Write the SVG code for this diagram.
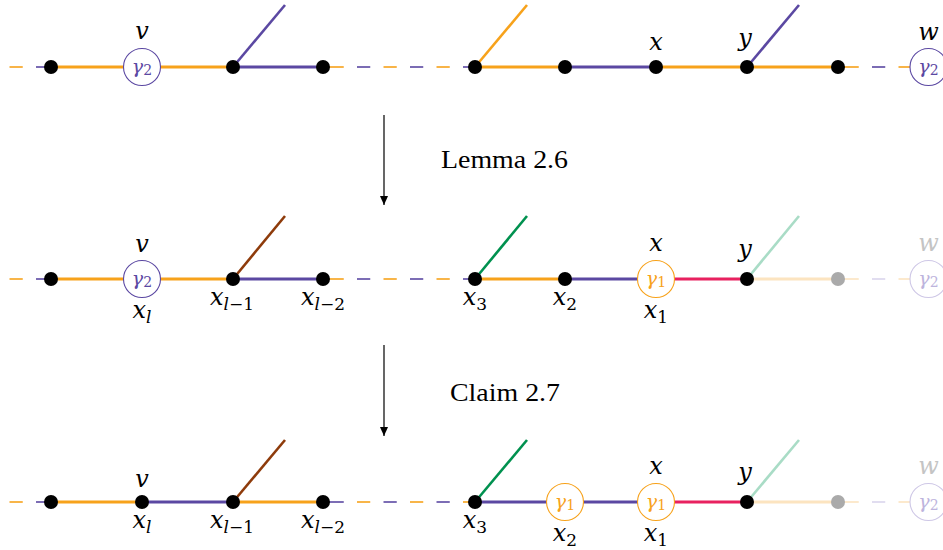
<svg xmlns="http://www.w3.org/2000/svg" width="943" height="550" viewBox="0 0 943 550">
<style>
.e{stroke-width:3;fill:none}
.dg{stroke-width:2.6;fill:none}
.ds{stroke-width:1.6;fill:none}
.o{stroke:#F7A21B}.p{stroke:#5B48A2}.br{stroke:#8E3B0B}.gr{stroke:#00914F}.lg{stroke:#A9DCC6}.cr{stroke:#E8215F}.fo{stroke:#FCE4C0}.fp{stroke:#DAD5EC}
.dot{fill:#000}.gdot{fill:#AAAAAA}
.cp{fill:#fff;stroke:#5B48A2;stroke-width:1.1}
.co{fill:#fff;stroke:#F7A21B;stroke-width:1.1}
.cf{fill:#fff;stroke:#CEC7E6;stroke-width:1.1}
text{font-family:"DejaVu Serif","Liberation Serif",serif}
.m{font-size:24px;font-style:italic;text-anchor:middle;fill:#000}
.s{font-size:17px}
.n{font-style:normal}
.g{font-size:19px;font-style:italic;text-anchor:middle}
.gs{font-size:14px;font-style:normal}
.tp{fill:#5B48A2}.to{fill:#F7A21B}.tf{fill:#BDB4DD}.wf{fill:#C4C4C4}
.lbl{font-family:"Liberation Serif",serif;font-size:25px;fill:#000}
.arr{stroke:#000;stroke-width:1.2}
</style>
<defs>
<marker id="ah" markerWidth="10" markerHeight="10" refX="9" refY="5" orient="auto" markerUnits="userSpaceOnUse"><path d="M0,1 L9,5 L0,9 z" fill="#000"/></marker>
</defs>
<g id="connectors">
<line class="ds o" x1="9.5" y1="67" x2="22.75" y2="67"/>
<line class="ds p" x1="36" y1="67" x2="51" y2="67"/>
<line class="e o" x1="51" y1="67" x2="233" y2="67"/>
<line class="e p" x1="233" y1="67" x2="323" y2="67"/>
<line class="dg p" x1="233" y1="67" x2="285" y2="5"/>
<line class="ds o" x1="323" y1="67" x2="343.75" y2="67"/>
<line class="ds p" x1="357" y1="67" x2="370.25" y2="67"/>
<line class="ds o" x1="383.5" y1="67" x2="396.75" y2="67"/>
<line class="ds p" x1="410" y1="67" x2="423.25" y2="67"/>
<line class="ds o" x1="436.5" y1="67" x2="449.75" y2="67"/>
<line class="ds p" x1="463" y1="67" x2="475" y2="67"/>
<line class="e o" x1="475" y1="67" x2="565" y2="67"/>
<line class="e p" x1="565" y1="67" x2="656" y2="67"/>
<line class="e o" x1="656" y1="67" x2="838" y2="67"/>
<line class="dg o" x1="475" y1="67" x2="527" y2="5"/>
<line class="dg p" x1="747" y1="67" x2="799" y2="5"/>
<line class="ds o" x1="838" y1="67" x2="858.75" y2="67"/>
<line class="ds p" x1="872" y1="67" x2="885.25" y2="67"/>
<line class="ds o" x1="898.5" y1="67" x2="911" y2="67"/>
<line class="ds o" x1="9.5" y1="279" x2="22.75" y2="279"/>
<line class="ds p" x1="36" y1="279" x2="51" y2="279"/>
<line class="e o" x1="51" y1="279" x2="233" y2="279"/>
<line class="e p" x1="233" y1="279" x2="323" y2="279"/>
<line class="dg br" x1="233" y1="279" x2="285" y2="216"/>
<line class="ds o" x1="323" y1="279" x2="343.75" y2="279"/>
<line class="ds p" x1="357" y1="279" x2="370.25" y2="279"/>
<line class="ds o" x1="383.5" y1="279" x2="396.75" y2="279"/>
<line class="ds p" x1="410" y1="279" x2="423.25" y2="279"/>
<line class="ds o" x1="436.5" y1="279" x2="449.75" y2="279"/>
<line class="ds p" x1="463" y1="279" x2="475" y2="279"/>
<line class="e o" x1="475" y1="279" x2="565" y2="279"/>
<line class="e p" x1="565" y1="279" x2="656" y2="279"/>
<line class="e cr" x1="656" y1="279" x2="747" y2="279"/>
<line class="e fo" x1="747" y1="279" x2="838" y2="279"/>
<line class="dg gr" x1="475" y1="279" x2="527" y2="216"/>
<line class="dg lg" x1="747" y1="279" x2="799" y2="216"/>
<line class="ds fo" x1="838" y1="279" x2="858.75" y2="279"/>
<line class="ds fp" x1="872" y1="279" x2="885.25" y2="279"/>
<line class="ds fo" x1="898.5" y1="279" x2="911" y2="279"/>
<line class="ds o" x1="9.5" y1="502" x2="22.75" y2="502"/>
<line class="ds p" x1="36" y1="502" x2="51" y2="502"/>
<line class="e o" x1="51" y1="502" x2="142" y2="502"/>
<line class="e p" x1="142" y1="502" x2="233" y2="502"/>
<line class="e o" x1="233" y1="502" x2="323" y2="502"/>
<line class="dg br" x1="233" y1="502" x2="285" y2="440"/>
<line class="ds p" x1="323" y1="502" x2="343.75" y2="502"/>
<line class="ds o" x1="357" y1="502" x2="370.25" y2="502"/>
<line class="ds p" x1="383.5" y1="502" x2="396.75" y2="502"/>
<line class="ds o" x1="410" y1="502" x2="423.25" y2="502"/>
<line class="ds p" x1="436.5" y1="502" x2="449.75" y2="502"/>
<line class="ds o" x1="463" y1="502" x2="475" y2="502"/>
<line class="e p" x1="475" y1="502" x2="656" y2="502"/>
<line class="e cr" x1="656" y1="502" x2="747" y2="502"/>
<line class="e fo" x1="747" y1="502" x2="838" y2="502"/>
<line class="dg gr" x1="475" y1="502" x2="527" y2="440"/>
<line class="dg lg" x1="747" y1="502" x2="799" y2="440"/>
<line class="ds fo" x1="838" y1="502" x2="858.75" y2="502"/>
<line class="ds fp" x1="872" y1="502" x2="885.25" y2="502"/>
<line class="ds fo" x1="898.5" y1="502" x2="911" y2="502"/>
<line class="arr" x1="384" y1="115" x2="384" y2="205" marker-end="url(#ah)"/>
<line class="arr" x1="384" y1="345" x2="384" y2="436" marker-end="url(#ah)"/>
</g>
<g id="step-labels">
<text class="lbl" x="441" y="168" textLength="127" lengthAdjust="spacingAndGlyphs">Lemma 2.6</text>
<text class="lbl" x="450" y="401" textLength="110" lengthAdjust="spacingAndGlyphs">Claim 2.7</text>
</g>
<g id="r1-a"><circle class="dot" cx="51" cy="67" r="7"/></g>
<g id="r1-v"><circle class="cp" cx="142" cy="67" r="18.5"/><text class="g tp" x="142" y="73">γ<tspan class="gs" dy="2">2</tspan></text><text class="m" x="142" y="39">v</text></g>
<g id="r1-b"><circle class="dot" cx="233" cy="67" r="7"/></g>
<g id="r1-c"><circle class="dot" cx="323" cy="67" r="7"/></g>
<g id="r1-d"><circle class="dot" cx="475" cy="67" r="7"/></g>
<g id="r1-e"><circle class="dot" cx="565" cy="67" r="7"/></g>
<g id="r1-x"><circle class="dot" cx="656" cy="67" r="7"/><text class="m" x="656" y="50">x</text></g>
<g id="r1-y"><circle class="dot" cx="747" cy="67" r="7"/><text class="m" x="745" y="46">y</text></g>
<g id="r1-f"><circle class="dot" cx="838" cy="67" r="7"/></g>
<g id="r1-w"><circle class="cp" cx="928.5" cy="67" r="18.5"/><text class="g tp" x="928.5" y="73">γ<tspan class="gs" dy="2">2</tspan></text><text class="m" x="928.5" y="40">w</text></g>
<g id="r2-a"><circle class="dot" cx="51" cy="279" r="7"/></g>
<g id="r2-xl"><circle class="cp" cx="142" cy="279" r="18.5"/><text class="g tp" x="142" y="285">γ<tspan class="gs" dy="2">2</tspan></text><text class="m" x="142" y="252">v</text><text class="m" x="142" y="318">x<tspan class="s" dy="5">l</tspan></text></g>
<g id="r2-xl1"><circle class="dot" cx="233" cy="279" r="7"/><text class="m" x="232" y="305">x<tspan class="s" dy="5">l</tspan><tspan class="s n">−1</tspan></text></g>
<g id="r2-xl2"><circle class="dot" cx="323" cy="279" r="7"/><text class="m" x="323" y="305">x<tspan class="s" dy="5">l</tspan><tspan class="s n">−2</tspan></text></g>
<g id="r2-x3"><circle class="dot" cx="475" cy="279" r="7"/><text class="m" x="475" y="305">x<tspan class="s n" dy="5">3</tspan></text></g>
<g id="r2-x2"><circle class="dot" cx="565" cy="279" r="7"/><text class="m" x="565" y="305">x<tspan class="s n" dy="5">2</tspan></text></g>
<g id="r2-x1"><circle class="co" cx="656" cy="279" r="18.5"/><text class="g to" x="656" y="285">γ<tspan class="gs" dy="2">1</tspan></text><text class="m" x="656" y="251">x</text><text class="m" x="656" y="318">x<tspan class="s n" dy="5">1</tspan></text></g>
<g id="r2-y"><circle class="dot" cx="747" cy="279" r="7"/><text class="m" x="745" y="257">y</text></g>
<g id="r2-f"><circle class="gdot" cx="838" cy="279" r="7"/></g>
<g id="r2-w"><circle class="cf" cx="928.5" cy="279" r="18.5"/><text class="g tf" x="928.5" y="285">γ<tspan class="gs" dy="2">2</tspan></text><text class="m wf" x="928.5" y="251">w</text></g>
<g id="r3-a"><circle class="dot" cx="51" cy="502" r="7"/></g>
<g id="r3-xl"><circle class="dot" cx="142" cy="502" r="7"/><text class="m" x="142" y="487">v</text><text class="m" x="142" y="528">x<tspan class="s" dy="5">l</tspan></text></g>
<g id="r3-xl1"><circle class="dot" cx="233" cy="502" r="7"/><text class="m" x="232" y="528">x<tspan class="s" dy="5">l</tspan><tspan class="s n">−1</tspan></text></g>
<g id="r3-xl2"><circle class="dot" cx="323" cy="502" r="7"/><text class="m" x="323" y="528">x<tspan class="s" dy="5">l</tspan><tspan class="s n">−2</tspan></text></g>
<g id="r3-x3"><circle class="dot" cx="475" cy="502" r="7"/><text class="m" x="475" y="528">x<tspan class="s n" dy="5">3</tspan></text></g>
<g id="r3-x2"><circle class="co" cx="565" cy="502" r="18.5"/><text class="g to" x="565" y="508">γ<tspan class="gs" dy="2">1</tspan></text><text class="m" x="565" y="541">x<tspan class="s n" dy="5">2</tspan></text></g>
<g id="r3-x1"><circle class="co" cx="656" cy="502" r="18.5"/><text class="g to" x="656" y="508">γ<tspan class="gs" dy="2">1</tspan></text><text class="m" x="656" y="474">x</text><text class="m" x="656" y="541">x<tspan class="s n" dy="5">1</tspan></text></g>
<g id="r3-y"><circle class="dot" cx="747" cy="502" r="7"/><text class="m" x="745" y="480">y</text></g>
<g id="r3-f"><circle class="gdot" cx="838" cy="502" r="7"/></g>
<g id="r3-w"><circle class="cf" cx="928.5" cy="502" r="18.5"/><text class="g tf" x="928.5" y="508">γ<tspan class="gs" dy="2">2</tspan></text><text class="m wf" x="928.5" y="474">w</text></g>
</svg>
